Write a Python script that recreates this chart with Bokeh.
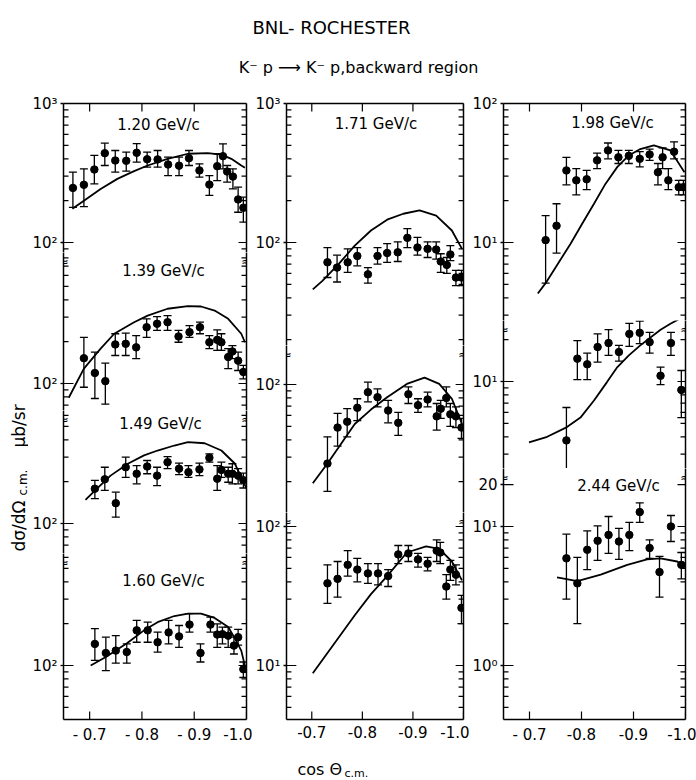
import math
from bokeh.plotting import figure
from bokeh.layouts import column, row
from bokeh.models import Range1d, LogAxis, LinearAxis, FixedTicker, Label, ColumnDataSource
from bokeh.embed import file_html
from bokeh.resources import INLINE
from bokeh.core.properties import value

FONT = "DejaVu Sans"

# ---------------- data: cos(theta_cm) and dsigma/dOmega (microbarn/sr) ----------------
p120_x = [-0.668, -0.689, -0.709, -0.729, -0.749, -0.770, -0.790, -0.810, -0.830, -0.850,
          -0.871, -0.890, -0.910, -0.929, -0.944, -0.955, -0.963, -0.974, -0.984, -0.994]
p120_y = [247, 260, 335, 439, 389, 387, 442, 397, 396, 364, 357, 404, 330, 261, 354, 418, 324, 298, 204, 178]
p120_lo = [179, 181, 264, 358, 321, 326, 379, 348, 348, 303, 303, 358, 295, 218, 279, 339, 272, 243, 165, 140]
p120_hi = [321, 339, 423, 518, 459, 447, 514, 447, 459, 411, 411, 459, 368, 303, 435, 513, 358, 339, 250, 212]
p120_cx = [-0.667, -0.689, -0.721, -0.753, -0.785, -0.811, -0.849, -0.888, -0.926, -0.952, -0.971, -0.990, -0.997]
p120_cy = [175, 200, 243, 287, 326, 358, 400, 435, 439, 429, 400, 358, 345]

p139_x = [-0.689, -0.710, -0.730, -0.749, -0.769, -0.789, -0.809, -0.829, -0.849, -0.870,
          -0.891, -0.911, -0.929, -0.944, -0.952, -0.965, -0.973, -0.984, -0.994]
p139_y = [152, 119, 104, 191, 193, 182, 254, 269, 276, 218, 234, 254, 198, 206, 198, 155, 170, 146, 121]
p139_lo = [94, 78, 71, 159, 159, 151, 215, 241, 241, 198, 215, 228, 178, 173, 173, 128, 151, 124, 108]
p139_hi = [215, 168, 140, 228, 230, 221, 292, 303, 308, 241, 261, 276, 221, 243, 228, 178, 187, 168, 135]
p139_cx = [-0.660, -0.689, -0.721, -0.747, -0.785, -0.811, -0.849, -0.888, -0.913, -0.939, -0.965, -0.990, -0.997]
p139_cy = [79, 128, 178, 228, 276, 308, 345, 360, 358, 335, 292, 228, 198]

p149_x = [-0.710, -0.729, -0.750, -0.769, -0.790, -0.810, -0.829, -0.849, -0.871, -0.889,
          -0.910, -0.929, -0.944, -0.952, -0.965, -0.973, -0.984, -0.994]
p149_y = [178, 208, 140, 254, 228, 257, 221, 276, 248, 234, 245, 297, 210, 243, 228, 228, 221, 205]
p149_lo = [151, 173, 111, 215, 193, 228, 187, 248, 225, 215, 221, 276, 173, 215, 198, 193, 193, 180]
p149_hi = [204, 254, 168, 300, 261, 284, 254, 303, 272, 261, 272, 317, 261, 276, 254, 269, 248, 230]
p149_cx = [-0.692, -0.712, -0.740, -0.773, -0.804, -0.830, -0.862, -0.888, -0.920, -0.952, -0.978, -0.990, -1.0]
p149_cy = [148, 175, 221, 269, 309, 335, 364, 385, 378, 335, 269, 215, 179]

p160_x = [-0.710, -0.731, -0.750, -0.771, -0.790, -0.811, -0.830, -0.851, -0.871, -0.891,
          -0.912, -0.931, -0.944, -0.954, -0.965, -0.976, -0.984, -0.994]
p160_y = [143, 123, 128, 125, 179, 179, 147, 173, 162, 197, 123, 197, 167, 168, 164, 139, 160, 94]
p160_lo = [109, 92, 104, 104, 147, 147, 125, 143, 135, 174, 106, 174, 135, 143, 135, 121, 140, 82]
p160_hi = [184, 160, 164, 143, 211, 205, 174, 211, 194, 236, 143, 223, 199, 189, 189, 160, 182, 106]
p160_cx = [-0.702, -0.731, -0.772, -0.804, -0.830, -0.862, -0.888, -0.913, -0.939, -0.965, -0.978, -0.990, -1.0]
p160_cy = [100, 115, 145, 179, 205, 227, 236, 236, 220, 189, 156, 128, 89]

p171_x = [-0.731, -0.750, -0.771, -0.790, -0.811, -0.830, -0.849, -0.870, -0.889, -0.909,
          -0.929, -0.946, -0.955, -0.967, -0.974, -0.985, -0.996]
p171_y = [72, 66, 72, 80, 59, 80, 84, 85, 108, 92, 90, 89, 73, 69, 82, 56, 56]
p171_lo = [56, 52, 61, 68, 51, 70, 72, 73, 92, 81, 78, 76, 61, 60, 74, 49, 49]
p171_hi = [92, 81, 90, 92, 66, 92, 98, 101, 126, 109, 101, 101, 83, 78, 95, 63, 63]
p171_cx = [-0.702, -0.721, -0.753, -0.785, -0.817, -0.849, -0.881, -0.913, -0.946, -0.977, -0.997]
p171_cy = [46, 53, 70, 95, 122, 146, 161, 170, 156, 122, 90]

p180_x = [-0.731, -0.751, -0.770, -0.790, -0.811, -0.830, -0.851, -0.871, -0.891, -0.910,
          -0.929, -0.947, -0.955, -0.966, -0.974, -0.985, -0.996]
p180_y = [27, 49, 54, 68, 88, 81, 65, 53, 85, 71, 78, 59, 67, 80, 61, 59, 49]
p180_lo = [17, 36, 42, 55, 75, 69, 53, 43, 73, 63, 69, 47, 57, 69, 50, 49, 41]
p180_hi = [42, 62, 67, 79, 104, 93, 77, 63, 96, 79, 88, 73, 77, 96, 73, 69, 57]
p180_cx = [-0.702, -0.731, -0.785, -0.817, -0.849, -0.888, -0.923, -0.952, -0.977, -0.997]
p180_cy = [19.5, 27, 52, 66, 81, 101, 112, 101, 79, 52]

p187_x = [-0.731, -0.751, -0.771, -0.790, -0.811, -0.831, -0.851, -0.871, -0.891, -0.910,
          -0.929, -0.947, -0.954, -0.966, -0.974, -0.985, -0.996]
p187_y = [39, 42, 53, 49, 46, 46, 44, 63, 64, 58, 54, 67, 65, 37, 49, 45, 26]
p187_lo = [28, 31, 44, 40, 39, 38, 37, 54, 56, 51, 48, 56, 54, 30, 41, 38, 20]
p187_hi = [53, 56, 67, 59, 54, 54, 49, 73, 73, 64, 60, 80, 77, 45, 57, 53, 32]
p187_cx = [-0.702, -0.785, -0.817, -0.849, -0.888, -0.926, -0.952, -0.977, -0.997]
p187_cy = [8.8, 23, 32.6, 44, 65, 72, 69, 56, 41]

p198_x = [-0.731, -0.752, -0.771, -0.790, -0.810, -0.830, -0.851, -0.871, -0.891, -0.912,
          -0.931, -0.947, -0.956, -0.967, -0.978, -0.987, -0.996]
p198_y = [10.4, 13.2, 33, 28, 28.5, 39, 46, 41, 42, 40, 43, 32, 41, 28, 45, 25, 25]
p198_lo = [5.1, 8.4, 26, 22, 24, 34, 40, 37, 37, 35, 39, 26, 34, 24, 40, 22, 22]
p198_hi = [15.6, 19, 41, 34, 33, 44, 52, 46, 46, 45, 47, 37, 48, 34, 53, 28, 28]
p198_cx = [-0.716, -0.731, -0.779, -0.801, -0.824, -0.846, -0.869, -0.891, -0.913, -0.939, -0.971, -0.998]
p198_cy = [4.3, 5.1, 9.8, 13.6, 19, 26.4, 35, 42.3, 47, 50, 46, 32]

p218_x = [-0.771, -0.792, -0.811, -0.831, -0.852, -0.872, -0.892, -0.912, -0.931, -0.952, -0.972, -0.992]
p218_y = [3.77, 14.6, 13.3, 17.7, 18.9, 16.3, 22, 22.4, 19.2, 11, 18.9, 8.7]
p218_lo = [1.85, 10.3, 10.3, 13.8, 15.4, 14, 17.9, 18.7, 16, 9.5, 15.4, 5.5]
p218_hi = [6.5, 19.7, 16, 22, 23.6, 18.2, 26.2, 27.2, 22.6, 12.7, 22.6, 12]
p218_cx = [-0.699, -0.734, -0.772, -0.798, -0.824, -0.849, -0.869, -0.891, -0.913, -0.952, -0.971, -0.997]
p218_cy = [3.65, 4.0, 4.7, 5.5, 7.3, 9.9, 12.7, 15.4, 18.2, 23.6, 26, 29.4]

p244_x = [-0.771, -0.792, -0.811, -0.831, -0.852, -0.872, -0.892, -0.912, -0.931, -0.950, -0.972, -0.992]
p244_y = [5.9, 3.9, 6.8, 7.9, 8.7, 7.8, 8.7, 12.7, 7.0, 4.7, 10, 5.3]
p244_lo = [3.0, 2.0, 4.9, 5.7, 6.4, 5.8, 6.7, 10.7, 5.9, 3.1, 7.8, 4.2]
p244_hi = [8.8, 6.0, 9.3, 10.1, 11.8, 9.7, 10.7, 14.8, 8.0, 6.1, 12, 6.5]
p244_cx = [-0.753, -0.792, -0.837, -0.888, -0.926, -0.952, -0.984, -1.0]
p244_cy = [4.3, 4.05, 4.5, 5.3, 5.8, 5.9, 5.6, 5.1]

X_TICKS = [-0.7, -0.8, -0.9, -1.0]
TICK_TEXT = {1: "10⁰", 10: "10¹", 100: "10²", 1000: "10³", 20: "20"}

DATA = {
    "120": (p120_x, p120_y, p120_lo, p120_hi, p120_cx, p120_cy),
    "139": (p139_x, p139_y, p139_lo, p139_hi, p139_cx, p139_cy),
    "149": (p149_x, p149_y, p149_lo, p149_hi, p149_cx, p149_cy),
    "160": (p160_x, p160_y, p160_lo, p160_hi, p160_cx, p160_cy),
    "171": (p171_x, p171_y, p171_lo, p171_hi, p171_cx, p171_cy),
    "180": (p180_x, p180_y, p180_lo, p180_hi, p180_cx, p180_cy),
    "187": (p187_x, p187_y, p187_lo, p187_hi, p187_cx, p187_cy),
    "198": (p198_x, p198_y, p198_lo, p198_hi, p198_cx, p198_cy),
    "218": (p218_x, p218_y, p218_lo, p218_hi, p218_cx, p218_cy),
    "244": (p244_x, p244_y, p244_lo, p244_hi, p244_cx, p244_cy),
}

# ---------------- layout (page pixels) ----------------
PPD = 139.0
TOP_Y = 91
COLUMNS = [
    dict(fl=63, fr=246, w=224, bl=35, br=6,
         xlab={-0.7: "- 0.7", -0.8: "- 0.8", -0.9: "- 0.9", -1.0: "-1.0"},
         panels=[
             dict(d="120", text="1.20 GeV/c", top=103, bottom=252, anchor=(1000, 103), majors=[100, 1000], lab=(158, 124)),
             dict(d="139", text="1.39 GeV/c", top=252, bottom=410, anchor=(100, 383), majors=[100], lab=(163, 270)),
             dict(d="149", text="1.49 GeV/c", top=410, bottom=553, anchor=(100, 523), majors=[100], lab=(160, 423)),
             dict(d="160", text="1.60 GeV/c", top=553, bottom=719, anchor=(100, 665), majors=[100], lab=(163, 580)),
         ]),
    dict(fl=283, fr=463, w=217, bl=31, br=6,
         xlab={-0.7: "-0.7", -0.8: "-0.8", -0.9: "-0.9", -1.0: "-1.0"},
         panels=[
             dict(d="171", text="1.71 GeV/c", top=103, bottom=345, anchor=(1000, 103), majors=[100, 1000], lab=(374, 123)),
             dict(d="180", text="1.80 GeV/c", top=345, bottom=512, anchor=(100, 384), majors=[100], lab=(377, 303)),
             dict(d="187", text="1.87 GeV/c", top=512, bottom=719, anchor=(10, 665), majors=[10, 100], lab=(376, 487)),
         ]),
    dict(fl=503, fr=685, w=227, bl=34, br=11,
         xlab={-0.7: "- 0.7", -0.8: "-0.8", -0.9: "-0.9", -1.0: "-1.0"},
         panels=[
             dict(d="198", text="1.98 GeV/c", top=103, bottom=320, anchor=(100, 103), majors=[10, 100], lab=(612, 122)),
             dict(d="218", text="2.18 GeV/c", top=320, bottom=468, anchor=(10, 381), majors=[10], lab=(608, 303)),
             dict(d="244", text="2.44 GeV/c", top=468, bottom=719, anchor=(1, 665), majors=[1, 10, 20], lab=(618, 485)),
         ]),
]

# inward tick lengths in pixels
LEFT_MAJ, RIGHT_MAJ, MINOR, X_TICK = 10, 8, 5, 8


def style_axis(ax, size="15px"):
    ax.axis_line_color = "black"
    ax.axis_line_width = 1.5
    ax.major_tick_line_color = "black"
    ax.major_tick_line_width = 1.3
    ax.minor_tick_line_color = None
    ax.major_label_text_font = FONT
    ax.major_label_text_font_size = size
    ax.major_label_text_color = "black"


def build_panel(col, pan, is_top, is_bottom):
    bt = 12 if is_top else 0
    bb = 30 if is_bottom else 0
    fh = pan["bottom"] - pan["top"]
    la = math.log10(pan["anchor"][0])
    lhi = la + (pan["anchor"][1] - pan["top"]) / PPD
    llo = la - (pan["bottom"] - pan["anchor"][1]) / PPD
    upx = (col["fr"] - col["fl"]) / 0.35
    dpx = fh / (lhi - llo)

    def to_data(px, py):
        x = -0.65 - (px - col["fl"]) / upx
        ly = lhi - (py - pan["top"]) / fh * (lhi - llo)
        return x, 10 ** ly

    p = figure(width=col["w"], height=fh + bt + bb,
               x_range=Range1d(-0.65, -1.0), y_range=Range1d(10 ** llo, 10 ** lhi),
               y_axis_type="log", x_axis_location=None, y_axis_location=None,
               toolbar_location=None, output_backend="svg",
               min_border_left=col["bl"], min_border_right=col["br"],
               min_border_top=bt, min_border_bottom=bb,
               outline_line_color=None, background_fill_color="white",
               border_fill_color="white")
    p.grid.visible = False

    majors = pan["majors"]
    minors = []
    for k in range(math.floor(llo) - 1, math.ceil(lhi) + 1):
        for m in range(2, 10):
            v = m * 10.0 ** k
            if 10 ** llo < v < 10 ** lhi and all(abs(v - M) > 1e-9 * M for M in majors):
                minors.append(v)
    yt = FixedTicker(ticks=majors, minor_ticks=minors)

    left = LogAxis(ticker=yt, major_label_overrides={m: TICK_TEXT[m] for m in majors},
                   major_tick_in=0, major_tick_out=3, minor_tick_in=0, minor_tick_out=0,
                   major_label_standoff=3)
    style_axis(left)
    p.add_layout(left, "left")

    right = LogAxis(ticker=yt, major_label_overrides={m: "" for m in majors},
                    major_tick_in=0, major_tick_out=0, minor_tick_in=0, minor_tick_out=0,
                    major_label_standoff=0)
    style_axis(right, "0px")
    p.add_layout(right, "right")

    xt = FixedTicker(ticks=X_TICKS, minor_ticks=[])
    if is_bottom:
        b = LinearAxis(ticker=xt, major_label_overrides=col["xlab"], major_tick_in=0,
                       major_tick_out=0, minor_tick_in=0, minor_tick_out=0, major_label_standoff=6)
        style_axis(b)
        p.add_layout(b, "below")
    if is_top:
        a = LinearAxis(ticker=xt, major_label_overrides={t: "" for t in X_TICKS}, major_tick_in=0,
                       major_tick_out=0, minor_tick_in=0, minor_tick_out=0, major_label_standoff=0)
        style_axis(a, "0px")
        p.add_layout(a, "above")

    # inward frame ticks at the same tick values as the axes
    ys = majors + minors
    llen = [LEFT_MAJ] * len(majors) + [MINOR] * len(minors)
    rlen = [RIGHT_MAJ] * len(majors) + [MINOR] * len(minors)
    p.segment(x0=[-0.65] * len(ys), y0=ys, x1=[-0.65 - L / upx for L in llen], y1=ys,
              line_color="black", line_width=1.2)
    p.segment(x0=[-1.0] * len(ys), y0=ys, x1=[-1.0 + L / upx for L in rlen], y1=ys,
              line_color="black", line_width=1.2)
    if is_bottom:
        p.segment(x0=X_TICKS, y0=[10 ** llo] * 4, x1=X_TICKS, y1=[10 ** (llo + X_TICK / dpx)] * 4,
                  line_color="black", line_width=1.2)
    if is_top:
        p.segment(x0=X_TICKS, y0=[10 ** lhi] * 4, x1=X_TICKS, y1=[10 ** (lhi - X_TICK / dpx)] * 4,
                  line_color="black", line_width=1.2)

    x, y, lo, hi, cx, cy = DATA[pan["d"]]
    src = ColumnDataSource(dict(x=x, y=y, lo=lo, hi=hi))
    p.line(cx, cy, line_color="black", line_width=1.8)
    p.segment(x0="x", y0="lo", x1="x", y1="hi", source=src, line_color="black", line_width=1.3)
    p.scatter(x="x", y="lo", marker="dash", size=8, line_color="black", line_width=1.3, source=src)
    p.scatter(x="x", y="hi", marker="dash", size=8, line_color="black", line_width=1.3, source=src)
    p.scatter(x="x", y="y", size=7.5, fill_color="black", line_color="black", source=src)

    lx, ly = to_data(*pan["lab"])
    p.text(x=[lx], y=[ly], text=[pan["text"]], text_align="center", text_baseline="middle",
           text_font=value(FONT), text_font_size="15px", text_color="black")

    if not is_top:
        _, yb = to_data(col["fl"], pan["top"] + 9)
        for xe in (-0.65, -1.0):
            p.add_layout(Label(x=xe, y=yb, text="≈", text_align="center", text_baseline="middle",
                               text_font=FONT, text_font_size="13px", text_color="black"))
    return p


def text_figure(w, h):
    f = figure(width=w, height=h, x_range=Range1d(0, w), y_range=Range1d(h, 0),
               toolbar_location=None, output_backend="svg", min_border=0,
               x_axis_location=None, y_axis_location=None, outline_line_color=None,
               background_fill_color="white", border_fill_color="white")
    f.grid.visible = False
    return f


col_layouts = []
for col in COLUMNS:
    n = len(col["panels"])
    figs = [build_panel(col, pan, i == 0, i == n - 1) for i, pan in enumerate(col["panels"])]
    col_layouts.append(column(*figs, spacing=0))

BODY_H = 749 - TOP_Y

title = text_figure(696, TOP_Y)
title.text(x=[331], y=[27], text=["BNL- ROCHESTER"], text_align="center", text_baseline="middle",
           text_font=value(FONT), text_font_size="18px", text_color="black")
title.text(x=[358], y=[67], text=["K⁻ p ⟶ K⁻ p,backward region"], text_align="center",
           text_baseline="middle", text_font=value(FONT), text_font_size="16px", text_color="black")

ylab = text_figure(28, BODY_H)
rot = math.pi / 2
ylab.text(x=[18], y=[551 - TOP_Y], text=["dσ/dΩ"], angle=rot, text_align="left", text_baseline="middle",
          text_font=value(FONT), text_font_size="17px", text_color="black")
ylab.text(x=[22], y=[495 - TOP_Y], text=["c.m."], angle=rot, text_align="left", text_baseline="middle",
          text_font=value(FONT), text_font_size="12px", text_color="black")
ylab.text(x=[18], y=[447 - TOP_Y], text=["μb/sr"], angle=rot, text_align="left", text_baseline="middle",
          text_font=value(FONT), text_font_size="17px", text_color="black")

xlab = text_figure(696, 780 - 749)
xlab.text(x=[297], y=[20], text=["cos Θ"], text_align="left", text_baseline="middle",
          text_font=value(FONT), text_font_size="16px", text_color="black")
xlab.text(x=[344], y=[24], text=["c.m."], text_align="left", text_baseline="middle",
          text_font=value(FONT), text_font_size="11px", text_color="black")

body = row(ylab, *col_layouts, spacing=0)
page = column(title, body, xlab, spacing=0)

open("out.html", "w").write(file_html(page, INLINE))
